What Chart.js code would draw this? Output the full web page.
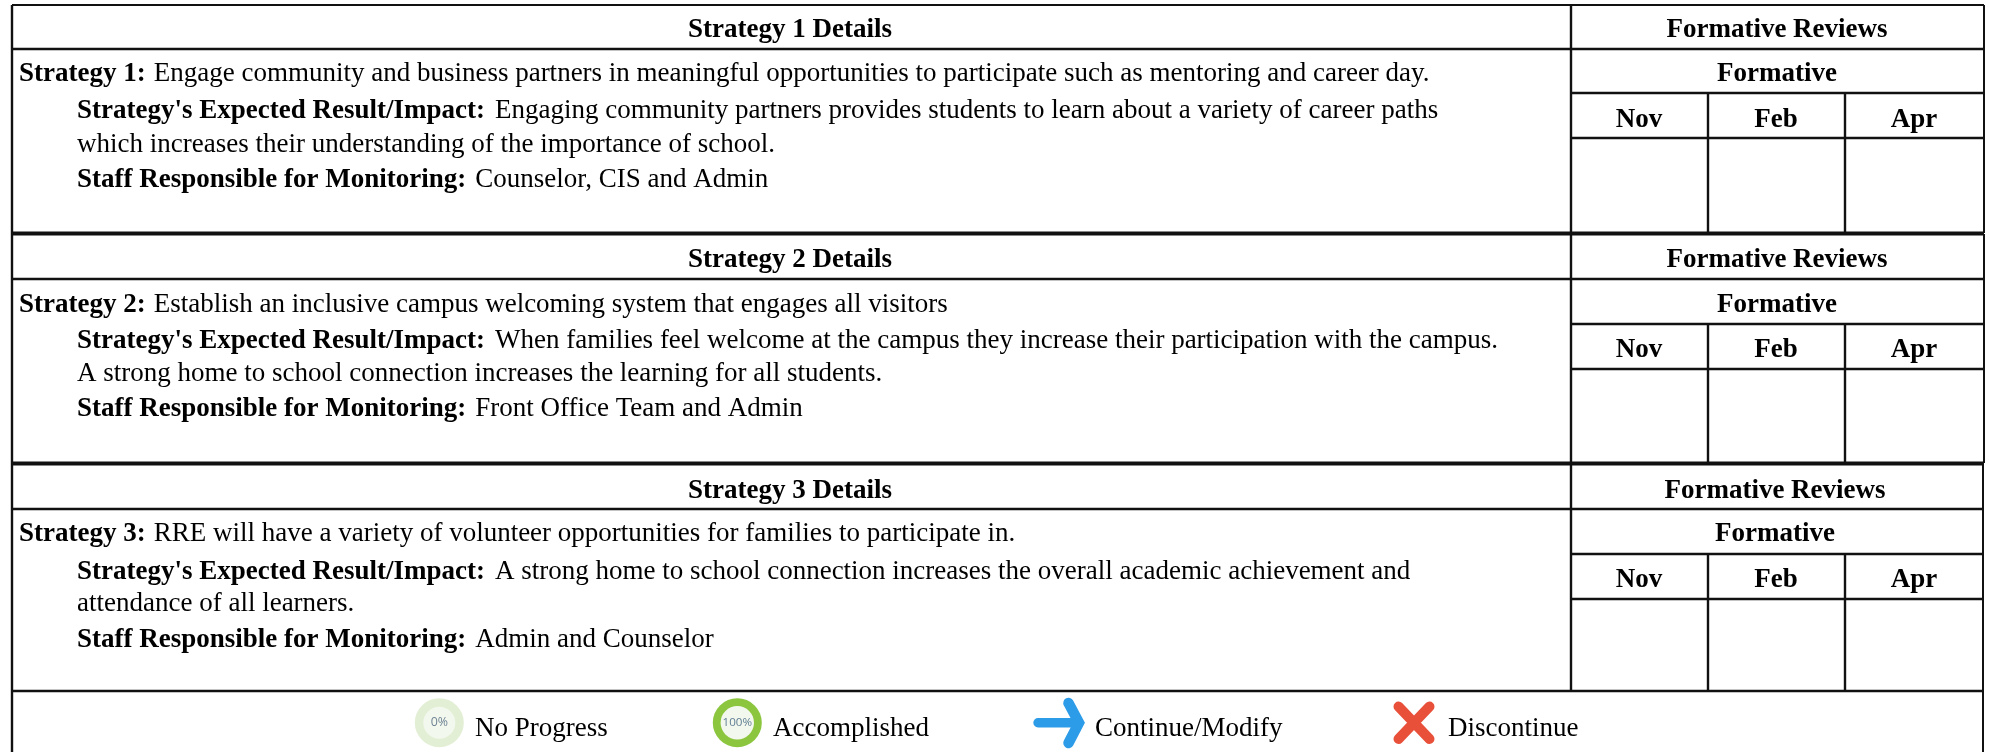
<!DOCTYPE html>
<html>
<head>
<meta charset="utf-8">
<title>Strategy Details</title>
<style>
  html, body { margin: 0; padding: 0; background: #fff; }
  canvas { display: block; }
</style>
<script src="https://cdn.jsdelivr.net/npm/chart.js@4"></script>
</head>
<body>
<canvas id="canvas1" width="1990" height="752"></canvas>
<script>
// table text
var headerLabels = ['Strategy 1 Details', 'Strategy 2 Details', 'Strategy 3 Details'];
var reviewTitle = 'Formative Reviews';
var reviewSubtitle = 'Formative';
var months = ['Nov', 'Feb', 'Apr'];
var strategyLabels = ['Strategy 1:', 'Strategy 2:', 'Strategy 3:'];
var strategyTexts = [
  'Engage community and business partners in meaningful opportunities to participate such as mentoring and career day.',
  'Establish an inclusive campus welcoming system that engages all visitors',
  'RRE will have a variety of volunteer opportunities for families to participate in.'
];
var impactLabel = "Strategy's Expected Result/Impact:";
var impactFirstLines = [
  'Engaging community partners provides students to learn about a variety of career paths',
  'When families feel welcome at the campus they increase their participation with the campus.',
  'A strong home to school connection increases the overall academic achievement and'
];
var impactSecondLines = [
  'which increases their understanding of the importance of school.',
  'A strong home to school connection increases the learning for all students.',
  'attendance of all learners.'
];
var staffLabel = 'Staff Responsible for Monitoring:';
var staffTexts = ['Counselor, CIS and Admin', 'Front Office Team and Admin', 'Admin and Counselor'];
var legendLabels = ['No Progress', 'Accomplished', 'Continue/Modify', 'Discontinue'];

// layout of the page, in page pixels
var blockTops = [5, 234, 464];
var blockRows = [[49, 93, 138, 233], [279, 324, 369, 463], [509, 554, 599, 691]];
var rightEdges = [1984, 1984, 1983];
var columnEdges = [1571, 1708, 1845];
var leftEdge = 12;
var headerCenters = [790, 790, 790];
var reviewCenters = [1777, 1777, 1775];
var monthCenters = [1639, 1776, 1914];
var monthBaselines = [127, 357, 587];
var baselines = [
  [37, 81, 118, 152, 187],
  [267, 312, 348, 381, 416],
  [498, 541, 579, 611, 647]
];
var legendBaseline = 736;
var legendTextX = [475, 773, 1095, 1448];

var FONT = '"Liberation Serif", "Times New Roman", serif';
var SIZE = 27;

function rule(x1, y1, x2, y2, width) {
  return {
    type: 'scatter',
    showLine: true,
    data: [{ x: x1, y: y1 }, { x: x2, y: y2 }],
    borderColor: '#111',
    borderWidth: width,
    pointRadius: 0,
    clip: false
  };
}

function buildRules() {
  var rules = [];
  blockTops.forEach(function (top, i) {
    var rows = blockRows[i];
    var right = rightEdges[i];
    var bottom = rows[3];
    rules.push(rule(leftEdge, top, right, top, i === 0 ? 2 : 3));
    rules.push(rule(leftEdge, rows[0], right, rows[0], 2.4));
    rules.push(rule(columnEdges[0], rows[1], right, rows[1], 2.4));
    rules.push(rule(columnEdges[0], rows[2], right, rows[2], 2.4));
    rules.push(rule(leftEdge, bottom, right, bottom, i === 2 ? 2.4 : 3));
    rules.push(rule(columnEdges[0], top, columnEdges[0], bottom, 2.4));
    rules.push(rule(columnEdges[1], rows[1], columnEdges[1], bottom, 2.4));
    rules.push(rule(columnEdges[2], rows[1], columnEdges[2], bottom, 2.4));
    rules.push(rule(right, top, right, bottom, 2));
  });
  rules.push(rule(leftEdge, 5, leftEdge, 752, 2.4));
  rules.push(rule(rightEdges[2], 691, rightEdges[2], 752, 2));
  return rules;
}

// draws the cell text and legend icons through the chart's scales
var tablePlugin = {
  id: 'tablePlugin',
  afterDatasetsDraw: function (chart) {
    var ctx = chart.ctx;
    var xs = chart.scales.x;
    var ys = chart.scales.y;
    var px = function (v) { return xs.getPixelForValue(v); };
    var py = function (v) { return ys.getPixelForValue(v); };
    var bold = 'bold ' + SIZE + 'px ' + FONT;
    var plain = SIZE + 'px ' + FONT;

    function text(str, x, y, font, align) {
      ctx.font = font;
      ctx.textAlign = align || 'left';
      ctx.textBaseline = 'alphabetic';
      ctx.fillStyle = '#000';
      ctx.fillText(str, px(x), py(y));
    }
    function mixed(label, rest, x, y, gap) {
      text(label, x, y, bold);
      var w = ctx.measureText(label).width;
      text(rest, x + w + gap, y, plain);
    }

    headerLabels.forEach(function (label, i) {
      var b = baselines[i];
      text(label, headerCenters[i], b[0], bold, 'center');
      text(reviewTitle, reviewCenters[i], b[0], bold, 'center');
      text(reviewSubtitle, reviewCenters[i], b[1], bold, 'center');
      months.forEach(function (m, k) {
        text(m, monthCenters[k], monthBaselines[i], bold, 'center');
      });
      mixed(strategyLabels[i], strategyTexts[i], 19, b[1], 8);
      mixed(impactLabel, impactFirstLines[i], 77, b[2], 10);
      text(impactSecondLines[i], 77, b[3], plain);
      mixed(staffLabel, staffTexts[i], 77, b[4], 9);
    });

    legendLabels.forEach(function (label, i) {
      text(label, legendTextX[i], legendBaseline, plain);
    });

    // ring icons
    function ring(cx, cy, outer, inner, ringColor, fill, pct, pctSize, pctColor) {
      ctx.beginPath();
      ctx.arc(px(cx), py(cy), outer, 0, Math.PI * 2);
      ctx.fillStyle = ringColor;
      ctx.fill();
      ctx.beginPath();
      ctx.arc(px(cx), py(cy), inner, 0, Math.PI * 2);
      ctx.fillStyle = fill;
      ctx.fill();
      ctx.font = pctSize + 'px "Open Sans", sans-serif';
      ctx.textAlign = 'center';
      ctx.textBaseline = 'middle';
      ctx.fillStyle = pctColor;
      ctx.fillText(pct, px(cx), py(cy));
    }
    ring(439.3, 722.7, 24.5, 16, '#e2efd4', '#f3f8ee', '0%', 12.4, '#6f8494');
    ring(737.3, 722.7, 24.5, 16.7, '#8cc63f', '#f3f8ee', '100%', 11.6, '#5f7d92');

    // arrow icon
    ctx.lineCap = 'round';
    ctx.lineJoin = 'round';
    ctx.strokeStyle = '#2d9ce8';
    ctx.lineWidth = 9.4;
    ctx.beginPath();
    ctx.moveTo(px(1038), py(722.7));
    ctx.lineTo(px(1078), py(722.7));
    ctx.stroke();
    ctx.lineWidth = 10.5;
    ctx.lineJoin = 'miter';
    ctx.beginPath();
    ctx.moveTo(px(1068.5), py(703));
    ctx.lineTo(px(1079), py(722.7));
    ctx.lineTo(px(1068.5), py(743));
    ctx.stroke();

    // cross icon
    ctx.strokeStyle = '#e8503a';
    ctx.lineWidth = 10;
    ctx.beginPath();
    ctx.moveTo(px(1398.5), py(706.5));
    ctx.lineTo(px(1429.5), py(739));
    ctx.moveTo(px(1429.5), py(706.5));
    ctx.lineTo(px(1398.5), py(739));
    ctx.stroke();
  }
};

document.addEventListener('DOMContentLoaded', function () {
  new Chart(document.getElementById('canvas1'), {
    type: 'scatter',
    data: { datasets: buildRules() },
    options: {
      responsive: false,
      animation: false,
      layout: { padding: 0 },
      plugins: { legend: { display: false }, tooltip: { enabled: false }, title: { display: false } },
      scales: {
        x: { type: 'linear', min: 0, max: 1990, display: false },
        y: { type: 'linear', min: 0, max: 752, reverse: true, display: false }
      }
    },
    plugins: [tablePlugin]
  });
});
</script>
</body>
</html>
